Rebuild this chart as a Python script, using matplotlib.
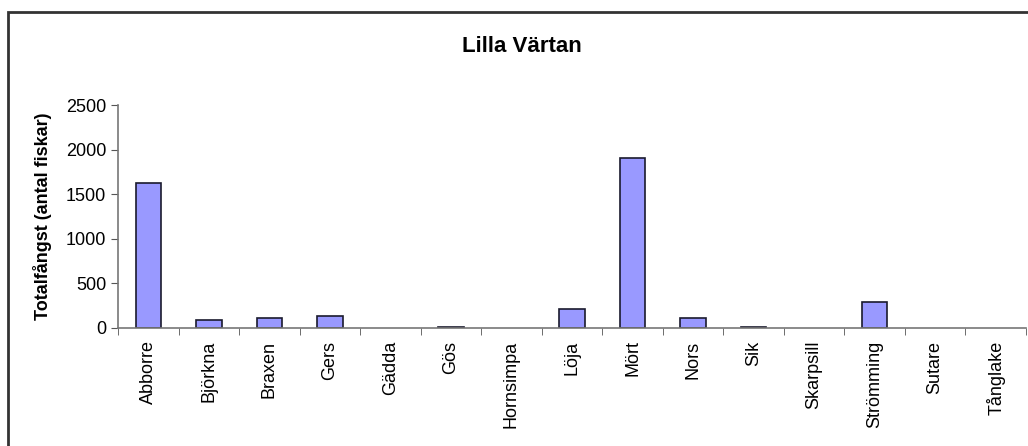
import matplotlib.pyplot as plt
from matplotlib.patches import Rectangle

plt.rcParams['font.family'] = ['Liberation Sans', 'DejaVu Sans']

species = ['Abborre', 'Björkna', 'Braxen', 'Gers', 'Gädda', 'Gös', 'Hornsimpa',
           'Löja', 'Mört', 'Nors', 'Sik', 'Skarpsill', 'Strömming', 'Sutare',
           'Tånglake']
catch = [1625, 95, 112, 135, 0, 10, 0, 213, 1905, 112, 10, 0, 290, 0, 0]

W, H = 1028, 446
fig = plt.figure(figsize=(W / 100, H / 100), dpi=100)

# outer chart border
fig.patches.append(Rectangle((8 / W, 0 - 0.05), 1.05, 1 - 12 / H + 0.05,
                             transform=fig.transFigure, fill=False,
                             edgecolor='#333333', linewidth=2))

ax = fig.add_axes([118 / W, 1 - 328 / H, (1026 - 118) / W, (328 - 105) / H])
x = range(len(species))
bars = ax.bar(x, catch, width=0.42, color='#9999ff', edgecolor='#1a1a2e',
              linewidth=1.2)
for b, v in zip(bars, catch):
    if v == 0:
        b.set_visible(False)

ax.set_xlim(-0.5, len(species) - 0.5)
ax.set_ylim(0, 2500)
ax.set_yticks([0, 500, 1000, 1500, 2000, 2500])
ax.set_xticks(list(x))
ax.set_xticklabels(species, rotation=90, fontsize=13)
ax.set_xticks([i + 0.5 for i in range(-1, len(species))], minor=True)
ax.tick_params(axis='x', which='major', length=0, pad=9)
ax.tick_params(axis='x', which='minor', length=5, color='#555555', direction='out')
ax.tick_params(axis='y', labelsize=13, length=5, color='#555555', direction='out')

for s in ['top', 'right']:
    ax.spines[s].set_visible(False)
for s in ['left', 'bottom']:
    ax.spines[s].set_color('#777777')
    ax.spines[s].set_linewidth(1.2)

ax.set_ylabel('Totalfångst (antal fiskar)', fontsize=13, fontweight='bold', labelpad=10)
fig.text(522 / W, 1 - 46 / H, 'Lilla Värtan', ha='center', va='center',
         fontsize=16, fontweight='bold')

fig.savefig('out.png', dpi=100)
